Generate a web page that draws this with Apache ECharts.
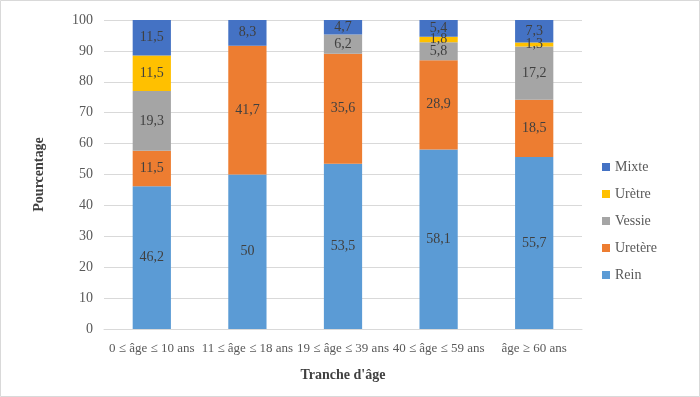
<!DOCTYPE html>
<html>
<head>
<meta charset="utf-8">
<script src="https://cdn.jsdelivr.net/npm/echarts@6/dist/echarts.min.js"></script>
<style>
html,body{margin:0;padding:0;background:#fff;}
#c{width:700px;height:397px;}
</style>
</head>
<body>
<div id="c"></div>
<script>
const categories = ['0 ≤ âge ≤ 10 ans', '11 ≤ âge ≤ 18 ans', '19 ≤ âge ≤ 39 ans', '40 ≤ âge ≤ 59 ans', 'âge ≥ 60 ans'];
const rein    = [46.2, 50, 53.5, 58.1, 55.7];
const uretere = [11.5, 41.7, 35.6, 28.9, 18.5];
const vessie  = [19.3, null, 6.2, 5.8, 17.2];
const uretre  = [11.5, null, null, 1.8, 1.3];
const mixte   = [11.5, 8.3, 4.7, 5.4, 7.3];
const yTicks = [0, 10, 20, 30, 40, 50, 60, 70, 80, 90, 100];

const FONT = '"Liberation Serif", "Times New Roman", serif';
const chart = echarts.init(document.getElementById('c'));

function mk(name, data, color) {
  return {
    name: name, type: 'bar', stack: 'total', data: data,
    barCategoryGap: '60%',
    itemStyle: { color: color },
    label: {
      show: true, position: 'inside', color: '#404040',
      fontFamily: FONT, fontSize: 14,
      formatter: p => (p.value == null ? '' : String(p.value).replace('.', ','))
    }
  };
}

chart.setOption({
  animation: false,
  backgroundColor: '#fff',
  graphic: [{
    type: 'rect', shape: { x: 0.5, y: 0.5, width: 699, height: 396 },
    style: { fill: 'none', stroke: '#d9d9d9', lineWidth: 1 }, silent: true
  }],
  grid: { left: 104, right: 118, top: 20, bottom: 68 },
  legend: {
    orient: 'vertical', left: 597, top: 155,
    itemWidth: 8, itemHeight: 8, itemGap: 13, icon: 'rect',
    data: ['Mixte', 'Urètre', 'Vessie', 'Uretère', 'Rein'],
    textStyle: { fontFamily: FONT, fontSize: 14, color: '#595959' }
  },
  xAxis: {
    type: 'category', data: categories,
    name: "Tranche d'âge", nameLocation: 'middle', nameGap: 39,
    nameTextStyle: { fontFamily: FONT, fontSize: 14, fontWeight: 'bold', color: '#404040' },
    axisLine: { lineStyle: { color: '#d9d9d9' } },
    axisTick: { show: false },
    axisLabel: { fontFamily: FONT, fontSize: 13, color: '#595959', margin: 13, interval: 0 }
  },
  yAxis: {
    type: 'value', min: yTicks[0], max: yTicks[yTicks.length - 1], interval: 10,
    name: 'Pourcentage', nameLocation: 'middle', nameGap: 58,
    nameTextStyle: { fontFamily: FONT, fontSize: 14, fontWeight: 'bold', color: '#404040' },
    axisLine: { show: false }, axisTick: { show: false },
    splitLine: { lineStyle: { color: '#d9d9d9' } },
    axisLabel: { fontFamily: FONT, fontSize: 14, color: '#595959', margin: 11 }
  },
  series: [
    mk('Rein', rein, '#5B9BD5'),
    mk('Uretère', uretere, '#ED7D31'),
    mk('Vessie', vessie, '#A5A5A5'),
    mk('Urètre', uretre, '#FFC000'),
    mk('Mixte', mixte, '#4472C4')
  ]
});
</script>
</body>
</html>
